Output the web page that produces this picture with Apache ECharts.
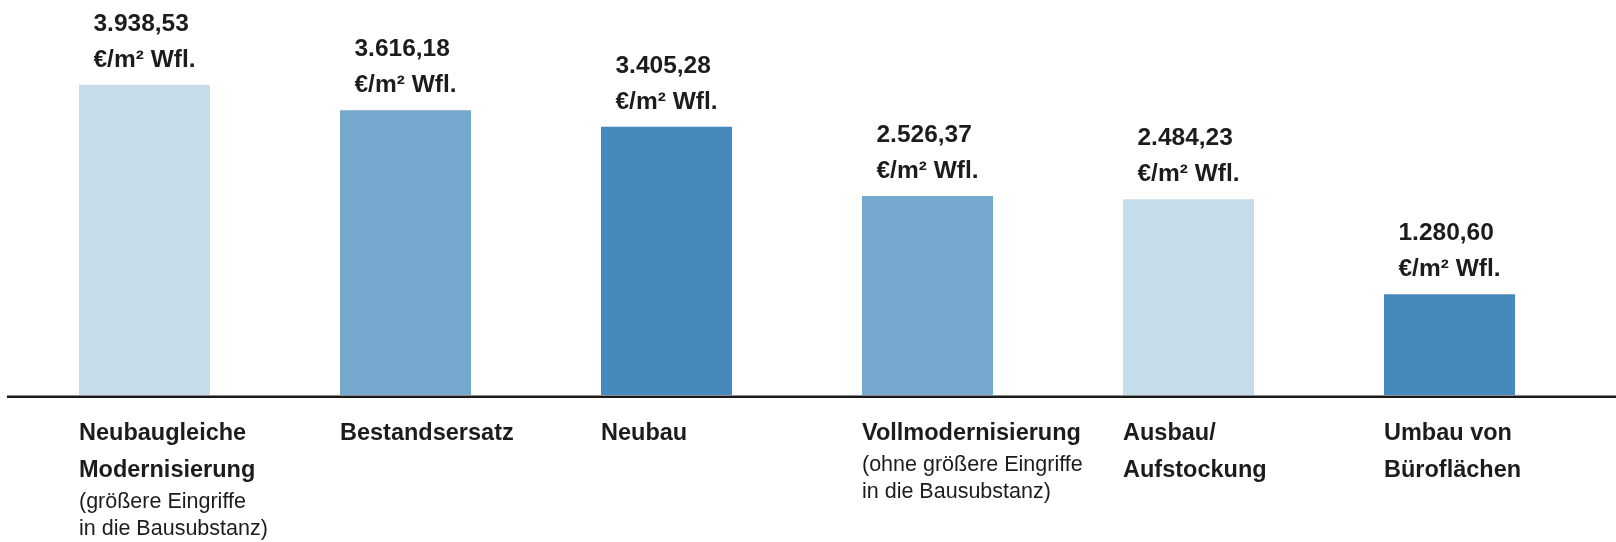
<!DOCTYPE html>
<html lang="de">

<head>
    <meta charset="UTF-8">
    <title>Baukosten je m² Wohnfläche</title>
    <script src="https://cdn.jsdelivr.net/npm/echarts@6/dist/echarts.min.js"></script>
    <style>
        body,
        html {
            padding: 0;
            margin: 0;
            background: #fff;
        }

        #chart-panel {
            height: 542px;
            width: 1616px;
        }
    </style>
</head>

<body>
    <div id="chart-panel"></div>
    <script>
        // Kategorien (fett) und Zusatz (normal)
        var categories = ['Neubaugleiche\nModernisierung', 'Bestandsersatz', 'Neubau', 'Vollmodernisierung', 'Ausbau/\nAufstockung', 'Umbau von\nBüroflächen'];
        var notes = ['(größere Eingriffe\nin die Bausubstanz)', '', '', '(ohne größere Eingriffe\nin die Bausubstanz)', '', ''];
        // €/m² Wfl.
        var values = [3938.53, 3616.18, 3405.28, 2526.37, 2484.23, 1280.60];
        var unit = '€/m² Wfl.';

        var LIGHT = '#c5dde9', MID = '#76a7cd', DARK = '#4689bd';
        var barColors = [LIGHT, MID, DARK, MID, LIGHT, DARK];
        var FONT = '"Liberation Sans", Arial, sans-serif';
        var TEXT = '#1c1c1c';
        var GRID_BOTTOM = 147;

        // 3938.53 -> "3.938,53"
        function fmt(v) {
            var parts = v.toFixed(2).split('.');
            var int = parts[0].replace(/\B(?=(\d{3})+(?!\d))/g, '.');
            return int + ',' + parts[1];
        }

        var option = {
            backgroundColor: '#fff',
            animation: false,
            grid: {
                left: 14,
                right: 36,
                top: 80,
                bottom: GRID_BOTTOM
            },
            xAxis: {
                type: 'category',
                data: categories,
                axisLine: { show: false },
                axisTick: { show: false },
                axisLabel: {
                    interval: 0,
                    margin: 20,
                    width: 131,
                    overflow: 'none',
                    align: 'center',
                    formatter: function (name) {
                        var i = categories.indexOf(name);
                        var out = name.split('\n').map(function (l) { return '{b|' + l + '}'; });
                        if (notes[i]) {
                            notes[i].split('\n').forEach(function (l) { out.push('{s|' + l + '}'); });
                        }
                        return out.join('\n');
                    },
                    rich: {
                        b: {
                            align: 'left',
                            fontFamily: FONT,
                            fontWeight: 'bold',
                            fontSize: 23.5,
                            lineHeight: 37,
                            color: TEXT
                        },
                        s: {
                            align: 'left',
                            fontFamily: FONT,
                            fontSize: 21.5,
                            lineHeight: 27,
                            color: TEXT
                        }
                    }
                }
            },
            yAxis: {
                type: 'value',
                min: 0,
                max: 4000,
                show: false,
                splitLine: { show: false }
            },
            series: [{
                type: 'bar',
                barWidth: 131,
                data: values.map(function (v, i) {
                    return { value: v, itemStyle: { color: barColors[i] } };
                }),
                label: {
                    show: true,
                    position: 'top',
                    distance: 7,
                    formatter: function (p) {
                        return '{v|' + fmt(p.value) + '}\n{v|' + unit + '}';
                    },
                    rich: {
                        v: {
                            align: 'left',
                            fontFamily: FONT,
                            fontWeight: 'bold',
                            fontSize: 24.5,
                            lineHeight: 36,
                            color: TEXT
                        }
                    }
                }
            }],
            graphic: [{
                // Grundlinie über die ganze Breite
                type: 'rect',
                left: 7,
                bottom: GRID_BOTTOM - 3,
                shape: { width: 1616 - 7, height: 2.5 },
                style: { fill: '#1a1a1a' }
            }]
        };

        var chartVM = echarts.init(document.getElementById('chart-panel'));
        chartVM.setOption(option);
    </script>
</body>

</html>
